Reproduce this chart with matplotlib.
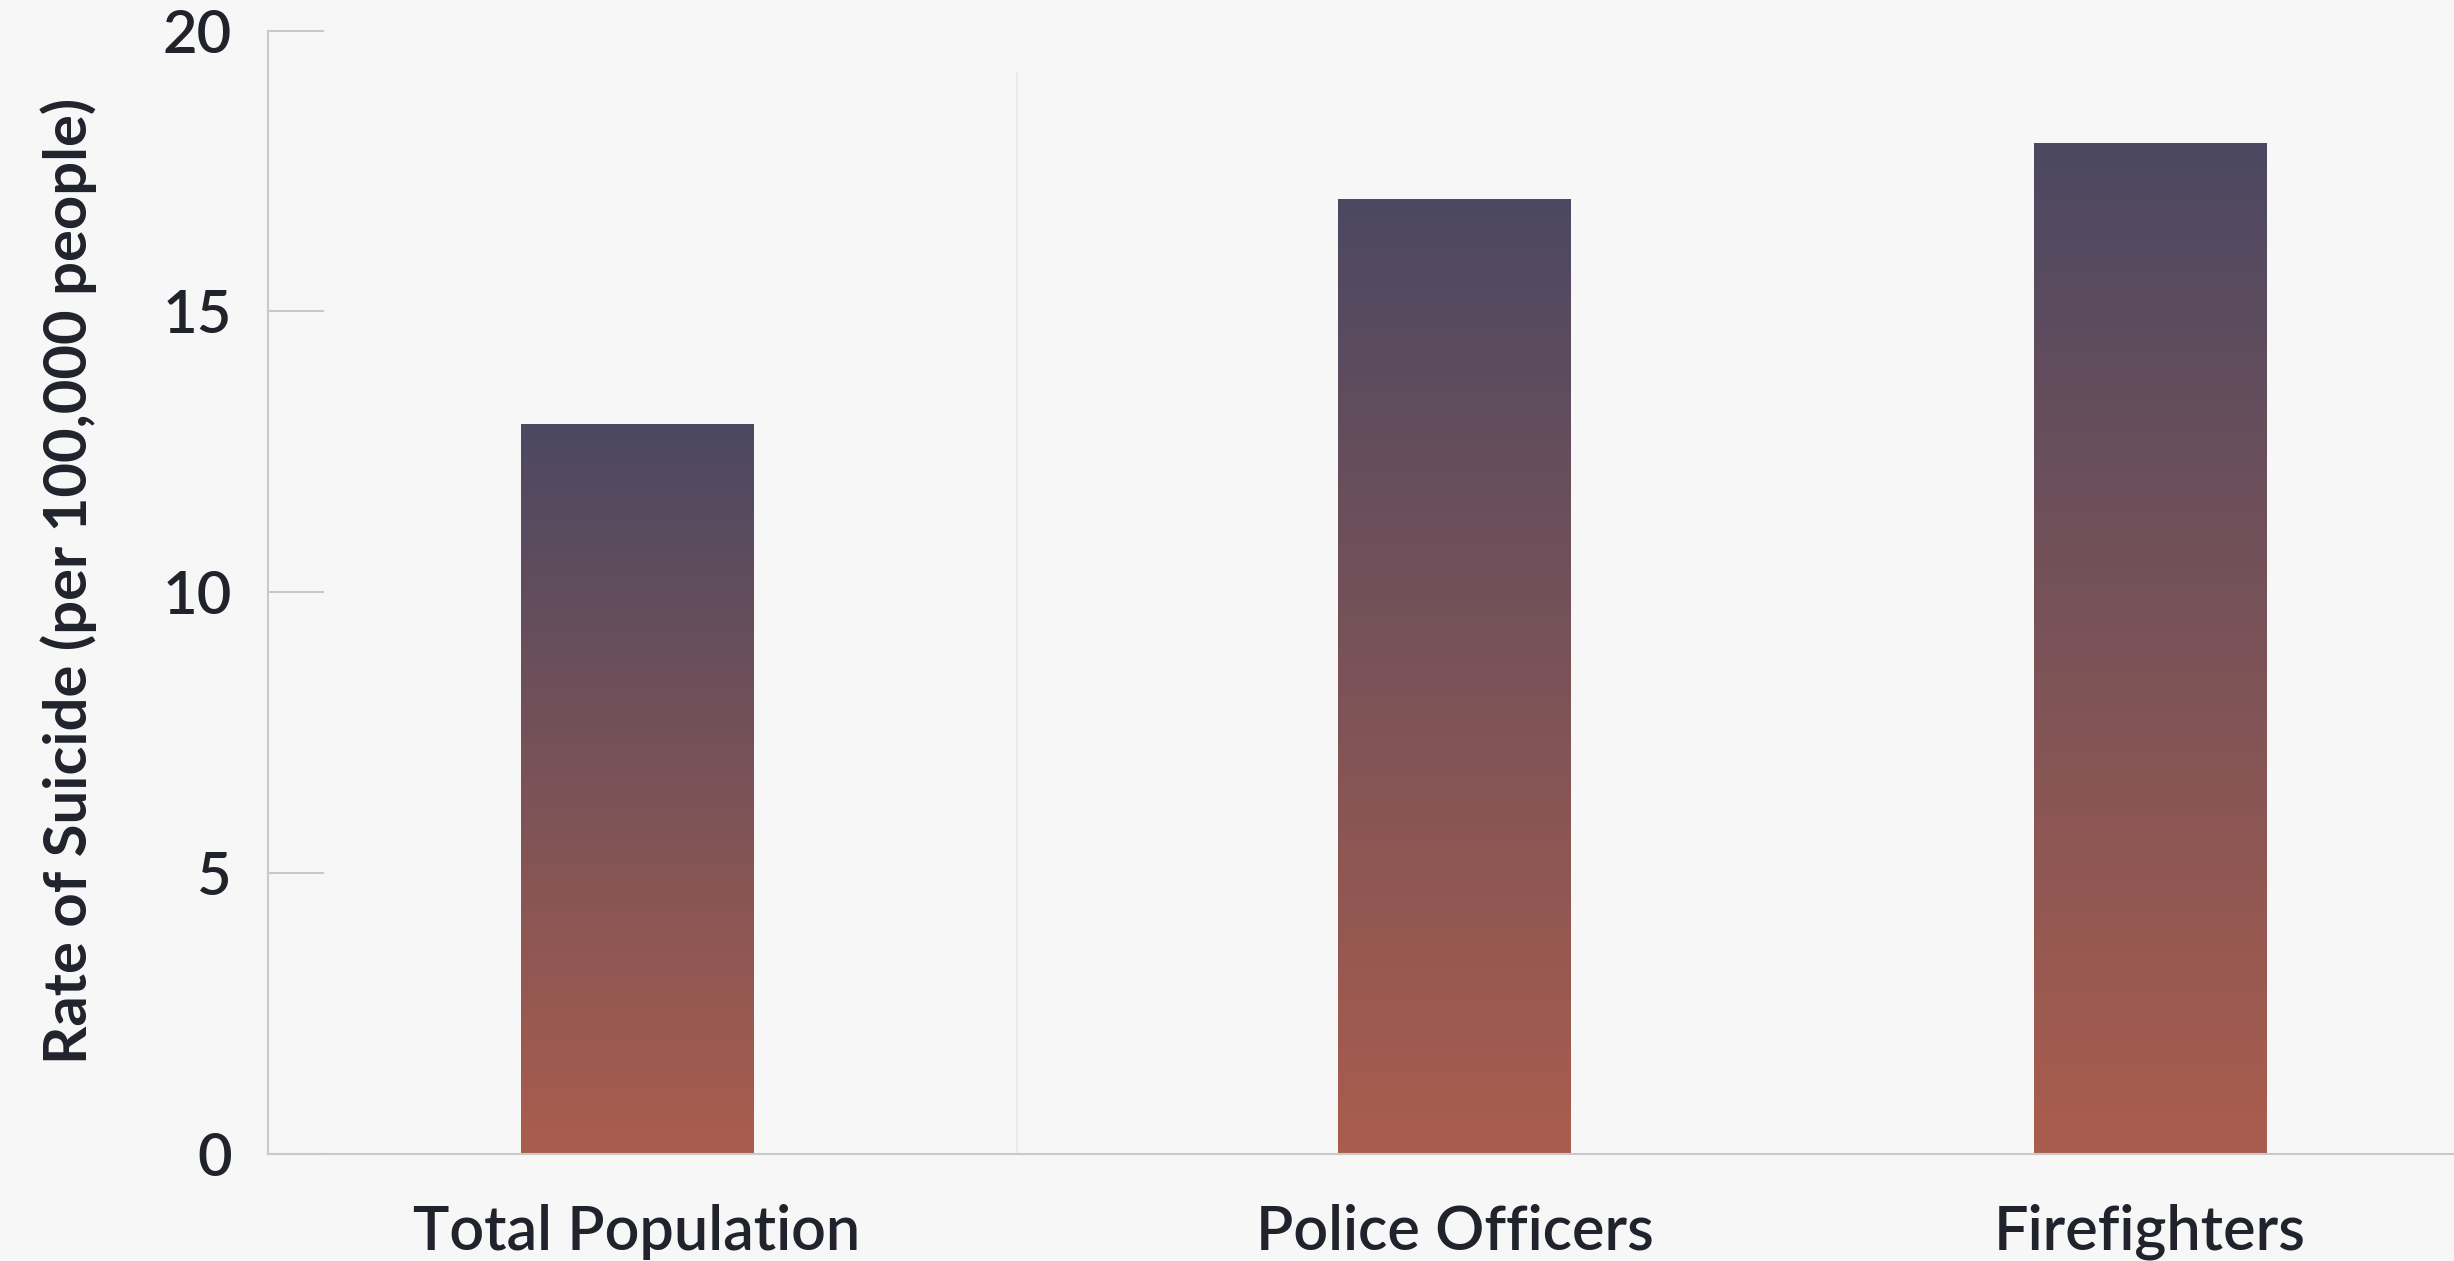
import numpy as np
import matplotlib
matplotlib.use("Agg")
import matplotlib.pyplot as plt
from matplotlib.colors import LinearSegmentedColormap

categories = ["Total Population", "Police Officers", "Firefighters"]
rates = [13, 17, 18]
y_ticks = [0, 5, 10, 15, 20]
y_label = "Rate of Suicide (per 100,000 people)"

# layout (not data)
x_pos = [0.0, 1.0, 1.8505]
bar_w = 0.2837

plt.rcParams['font.family'] = ['Lato', 'DejaVu Sans']
bg = "#f7f7f7"
txt = "#20222c"
grey = "#c9c9c9"

fig = plt.figure(figsize=(24.54, 12.61), dpi=100, facecolor=bg)
ax = fig.add_axes([268/2454, 1-1153.5/1261, 1-268/2454, (1153.5-30.7)/1261])
ax.set_facecolor(bg)

cmap = LinearSegmentedColormap.from_list("g", ["#aa5d4d", "#4c4862"])
grad = np.linspace(0, 1, 256).reshape(-1, 1)

bars = ax.bar(x_pos, rates, width=bar_w, color="none", edgecolor="none", zorder=2)
for b in bars:
    x0, y0 = b.get_x(), b.get_y()
    w, h = b.get_width(), b.get_height()
    im = ax.imshow(grad, cmap=cmap, origin="lower", aspect="auto",
                   extent=[x0, x0 + w, y0, y0 + h], zorder=2, interpolation="bilinear")
    im.set_clip_path(b)

ax.set_xlim(-0.4508, 2.2222)
ax.set_ylim(0, 20)

ax.axvline(0.4654, ymin=0, ymax=0.962, color="#ebebeb", lw=1.5, zorder=1)

for s in ["top", "right"]:
    ax.spines[s].set_visible(False)
for s in ["left", "bottom"]:
    ax.spines[s].set_color(grey)
    ax.spines[s].set_linewidth(1.5)

ax.set_yticks(y_ticks)
ax.set_yticklabels([str(v) for v in y_ticks], fontweight="semibold")
ax.tick_params(axis="y", direction="in", length=40, width=1.5, color=grey,
               labelsize=43, labelcolor=txt, pad=26)
ax.set_xticks(x_pos)
ax.set_xticklabels(categories, fontweight="semibold")
ax.tick_params(axis="x", length=0, labelsize=44, labelcolor=txt, pad=36)

ax.set_ylabel(y_label, fontsize=43, fontweight="bold", color=txt)
ax.yaxis.set_label_coords(-0.078, 0.51)

fig.savefig("out.png", dpi=100, facecolor=bg)
